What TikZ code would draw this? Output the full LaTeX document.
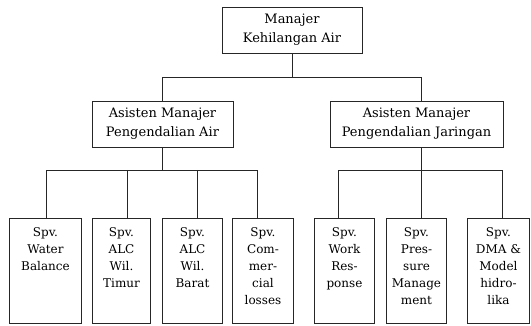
\documentclass[tikz,border=0pt]{standalone}
\usepackage{fontspec}
\setmainfont{DejaVu Serif}
\begin{document}
\begin{tikzpicture}[x=1pt,y=-1pt,
  boxline/.style={draw=black!85, line width=1pt},
  topbox/.style={boxline, inner sep=0pt, align=center, font=\fontsize{13}{19}\selectfont},
  lowbox/.style={boxline, inner sep=0pt, anchor=north west},
  lowtext/.style={inner sep=0pt, anchor=north, align=center, font=\fontsize{12}{17}\selectfont},
  wire/.style={draw=black!85, line width=1pt}]
\useasboundingbox (0,0) rectangle (531,325);

% top
\node[topbox, minimum width=140, minimum height=46] (top) at (292,30) {Manajer\\Kehilangan Air};
% assistants
\node[topbox, minimum width=141, minimum height=46] (a1) at (162.5,124) {Asisten Manajer\\Pengendalian Air};
\node[topbox, minimum width=173, minimum height=46] (a2) at (416.5,124) {Asisten Manajer\\Pengendalian Jaringan};

% supervisors
\node[lowbox, minimum width=72, minimum height=105] (b1) at (9,218) {};
\node[lowbox, minimum width=58, minimum height=105] (b2) at (92,218) {};
\node[lowbox, minimum width=60, minimum height=105] (b3) at (162,218) {};
\node[lowbox, minimum width=61, minimum height=105] (b4) at (232,218) {};
\node[lowbox, minimum width=60, minimum height=105] (b5) at (314,218) {};
\node[lowbox, minimum width=60, minimum height=105] (b6) at (386,218) {};
\node[lowbox, minimum width=62, minimum height=105] (b7) at (467,218) {};

\node[lowtext] (t1) at ([yshift=-9pt]b1.north) {Spv.\\Water\\Balance};
\node[lowtext] (t2) at ([yshift=-9pt]b2.north) {Spv.\\ALC\\Wil.\\Timur};
\node[lowtext] (t3) at ([yshift=-9pt]b3.north) {Spv.\\ALC\\Wil.\\Barat};
\node[lowtext] (t4) at ([yshift=-9pt]b4.north) {Spv.\\Com-\\mer-\\cial\\losses};
\node[lowtext] (t5) at ([yshift=-9pt]b5.north) {Spv.\\Work\\Res-\\ponse};
\node[lowtext] (t6) at ([yshift=-9pt]b6.north) {Spv.\\Pres-\\sure\\Manage\\ment};
\node[lowtext] (t7) at ([yshift=-9pt]b7.north) {Spv.\\DMA \&\\Model\\hidro-\\lika};

% connectors
\coordinate (j0) at (292,77);
\coordinate (j1) at (162.5,170);
\coordinate (j2) at (421,170);
\draw[wire] (top.south) -- (j0);
\draw[wire] (a1.north) |- (j0);
\draw[wire] ([xshift=4.5pt]a2.north) |- (j0);

\draw[wire] (a1.south) -- (j1);
\draw[wire] ([xshift=0.5pt]b1.north) |- (j1);
\draw[wire] ([xshift=6pt]b2.north) |- (j1);
\draw[wire] ([xshift=5pt]b3.north) |- (j1);
\draw[wire] ([xshift=-5.5pt]b4.north) |- (j1);

\draw[wire] ([xshift=4.5pt]a2.south) -- (j2);
\draw[wire] ([xshift=-6pt]b5.north) |- (j2);
\draw[wire] ([xshift=5pt]b6.north) |- (j2);
\draw[wire] ([xshift=4pt]b7.north) |- (j2);
\end{tikzpicture}
\end{document}
